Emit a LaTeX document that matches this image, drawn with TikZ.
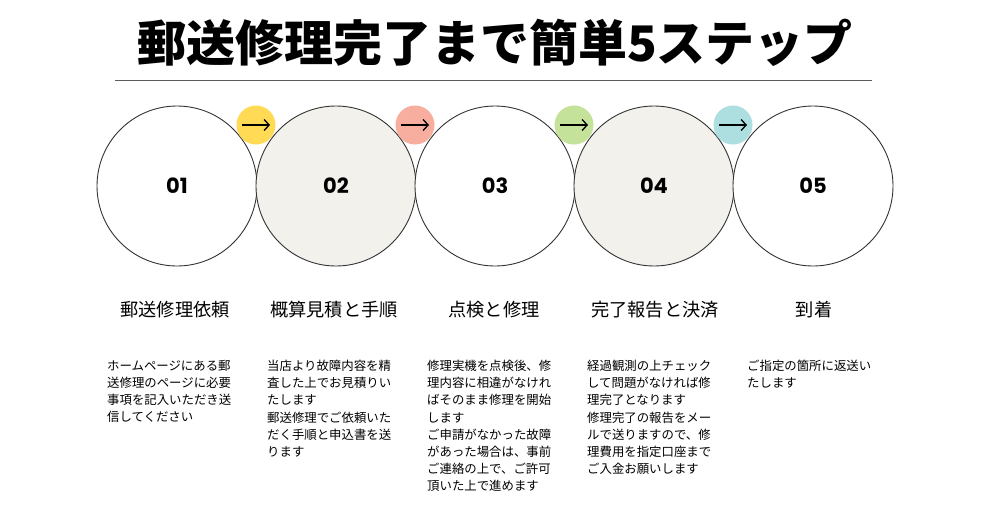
\documentclass[tikz,border=0pt]{standalone}
\usepackage{fontspec}
\setmainfont{Noto Sans CJK JP}
\newfontfamily\numfont{Poppins}
\usetikzlibrary{arrows.meta}
\definecolor{cyel}{HTML}{FFDA55}
\definecolor{csal}{HTML}{F8AE9E}
\definecolor{cgrn}{HTML}{C5E29A}
\definecolor{ccyn}{HTML}{AEDFE0}
\definecolor{cbeige}{HTML}{F3F1EC}
\definecolor{cline}{HTML}{333333}
\begin{document}
\begin{tikzpicture}[x=1pt,y=-1pt,
  bigcirc/.style={circle,draw=cline,line width=0.9pt,minimum size=160pt,inner sep=0pt,font=\numfont\bfseries\fontsize{21}{21}\selectfont},
  smallcirc/.style={circle,minimum size=39pt,inner sep=0pt},
  arr/.style={line width=1.3pt,-{Straight Barb[length=5pt,width=11pt,line width=1.3pt]}},
  steplabel/.style={font=\fontsize{18.2}{20}\selectfont,inner sep=0pt},
  desc/.style={anchor=north west,align=left,inner sep=0pt,font=\fontsize{12.4}{17.15}\selectfont}]
\fill[white] (0,0) rectangle (990,520);
\useasboundingbox (0,0) rectangle (990,520);
% title
\node[font=\bfseries\fontsize{49}{49}\selectfont,inner sep=0pt] (title) at (495,43) {郵送修理完了まで簡単5ステップ};
\coordinate (l1) at (115,80);
\coordinate (l2) at (872,80);
\draw[line width=1pt,draw=cline!80] (l1) -- (l2);
% circles
\node[bigcirc,fill=white] (c1) at (177,186) {01};
\node[bigcirc,fill=cbeige] (c2) at (336,186) {02};
\node[bigcirc,fill=white] (c3) at (495,186) {03};
\node[bigcirc,fill=cbeige] (c4) at (654,186) {04};
\node[bigcirc,fill=white] (c5) at (813,186) {05};
% small arrow circles
\foreach \n/\x/\c in {1/256/cyel,2/415/csal,3/574/cgrn,4/733/ccyn}{
  \node[smallcirc,fill=\c] (a\n) at (\x,125) {};
  \draw[arr] ([xshift=-14pt]a\n.center) -- ([xshift=14pt]a\n.center);
}
% step labels
\node[steplabel] (s1) at (175,310) {郵送修理依頼};
\node[steplabel] (s2) at (334,310) {概算見積と手順};
\node[steplabel] (s3) at (494,310) {点検と修理};
\node[steplabel] (s4) at (655,310) {完了報告と決済};
\node[steplabel] (s5) at (814,310) {到着};
% descriptions
\node[desc] (d1) at (107,360) {ホームページにある郵\\送修理のページに必要\\事項を記入いただき送\\信してください};
\node[desc] (d2) at (267,360) {当店より故障内容を精\\査した上でお見積りい\\たします\\郵送修理でご依頼いた\\だく手順と申込書を送\\ります};
\node[desc] (d3) at (427,360) {修理実機を点検後、修\\理内容に相違がなけれ\\ばそのまま修理を開始\\します\\ご申請がなかった故障\\があった場合は、事前\\ご連絡の上で、ご許可\\頂いた上で進めます};
\node[desc] (d4) at (587,360) {経過観測の上チェック\\して問題がなければ修\\理完了となります\\修理完了の報告をメー\\ルで送りますので、修\\理費用を指定口座まで\\ご入金お願いします};
\node[desc] (d5) at (747,360) {ご指定の箇所に返送い\\たします};
\end{tikzpicture}
\end{document}
